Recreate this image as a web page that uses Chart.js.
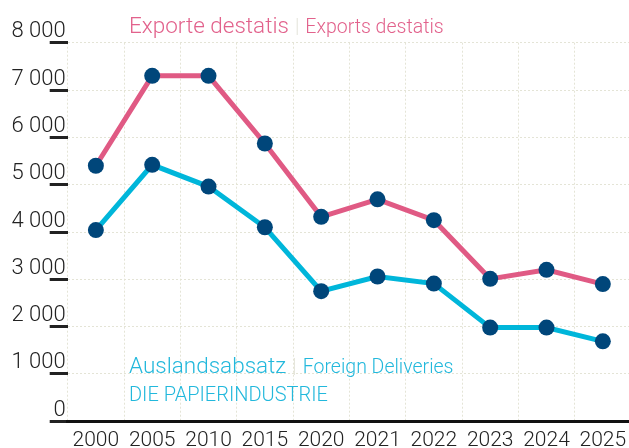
<!DOCTYPE html>
<html>
<head>
<meta charset="utf-8">
<script src="https://cdn.jsdelivr.net/npm/chart.js@4"></script>
<style>
  html, body { margin: 0; padding: 0; background: #fff; overflow: hidden; width: 629px; height: 448px; }
  #wrap { position: relative; width: 639px; height: 448px; }
  canvas { position: absolute; left: 0; top: 0; }
  .lbl { position: absolute; white-space: nowrap; font-family: Roboto, sans-serif; font-weight: 300; line-height: 1; }
  .sep { color: #e6e6dc; }
</style>
</head>
<body>
<div id="wrap">
  <canvas id="c" width="639" height="448"></canvas>
  <div class="lbl" style="left:129px; top:14px; color:#e2628c;">
    <span style="font-size:22.5px;">Exporte destatis</span><span class="sep" style="font-size:20px; margin:0 6px;">|</span><span style="font-size:19.5px;">Exports destatis</span>
  </div>
  <div class="lbl" style="left:129px; top:354px; color:#22b8dc;">
    <span style="font-size:22.5px;">Auslandsabsatz</span><span class="sep" style="font-size:20px; margin:0 6px;">|</span><span style="font-size:19.5px;">Foreign Deliveries</span>
  </div>
  <div class="lbl" style="left:129px; top:384px; color:#22b8dc; font-size:20px;">DIE PAPIERINDUSTRIE</div>
</div>
<script>
const years = ['2000','2005','2010','2015','2020','2021','2022','2023','2024','2025'];
const exporteDestatis = [5400, 7300, 7300, 5870, 4320, 4690, 4250, 3010, 3200, 2900];
const auslandsabsatz = [4040, 5420, 4960, 4100, 2750, 3060, 2910, 1980, 1980, 1690];
const yTickValues = [0, 1000, 2000, 3000, 4000, 5000, 6000, 7000, 8000];

const fmt = v => String(v).replace(/\B(?=(\d{3})+(?!\d))/g, ' ');

new Chart(document.getElementById('c'), {
  type: 'line',
  data: {
    labels: years,
    datasets: [
      {
        label: 'Exporte destatis',
        data: exporteDestatis,
        borderColor: '#e05a84',
        borderWidth: 5,
        pointRadius: 8,
        pointHoverRadius: 8,
        pointBackgroundColor: '#00467a',
        pointBorderWidth: 0,
        tension: 0,
        fill: false
      },
      {
        label: 'Auslandsabsatz',
        data: auslandsabsatz,
        borderColor: '#00b6da',
        borderWidth: 5,
        pointRadius: 8,
        pointHoverRadius: 8,
        pointBackgroundColor: '#00467a',
        pointBorderWidth: 0,
        tension: 0,
        fill: false
      }
    ]
  },
  options: {
    responsive: false,
    animation: false,
    devicePixelRatio: 1,
    layout: { padding: { left: 0, top: 42.7, right: 1, bottom: 0 } },
    plugins: { legend: { display: false }, tooltip: { enabled: false } },
    scales: {
      x: {
        offset: true,
        grid: { offset: true, color: '#e4e4d6', lineWidth: 1, drawTicks: false },
        border: { display: true, color: '#111', width: 3, dash: [2, 2] },
        ticks: { color: '#222', font: { family: 'Roboto', size: 21, weight: 300 }, padding: 7, maxRotation: 0, autoSkip: false },
        afterFit: s => { s.height = 26.7; s.paddingLeft = 0; s.paddingRight = 0; }
      },
      y: {
        min: 0,
        max: 8000,
        afterBuildTicks: s => { s.ticks = yTickValues.map(v => ({ value: v })); },
        grid: { color: '#e4e4d6', lineWidth: 1, drawTicks: true, tickLength: 18, tickWidth: 3, tickColor: '#222', tickBorderDash: [] },
        border: { display: false, dash: [2, 2] },
        ticks: { color: '#222', font: { family: 'Roboto', size: 22, weight: 300 }, padding: -16, align: 'end', callback: v => fmt(v) },
        afterFit: s => { s.width = 67.7; s.paddingTop = 0; s.paddingBottom = 0; }
      }
    }
  }
});
</script>
</body>
</html>
